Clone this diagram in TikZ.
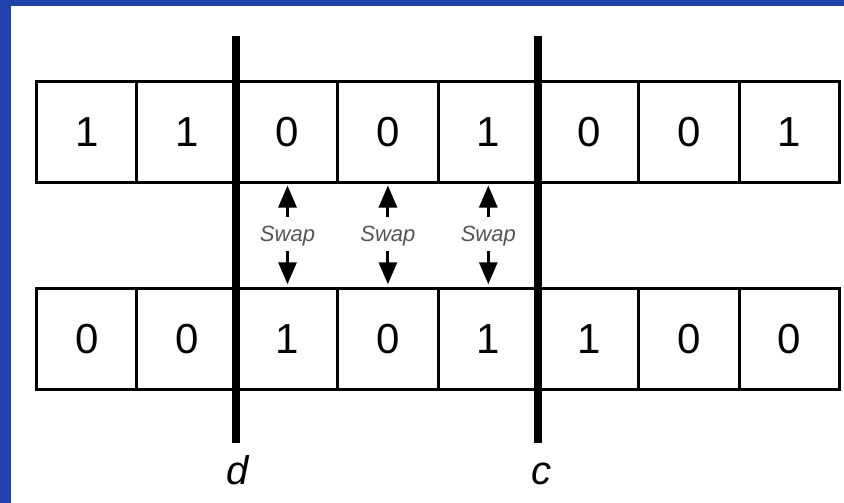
\documentclass[tikz,border=0pt]{standalone}
\usepackage{fontspec}
\setmainfont{Liberation Sans}
\usetikzlibrary{arrows.meta,positioning}
\definecolor{frameblue}{HTML}{2142AA}
\definecolor{swapgray}{HTML}{555555}

\begin{document}
\begin{tikzpicture}[x=1pt, y=-1pt,
    cell/.style={draw, line width=3pt, minimum width=100.4pt, minimum height=101pt,
      inner sep=0pt, outer sep=0pt, font=\fontsize{42}{48}\selectfont},
    swaplbl/.style={inner sep=0pt, text=swapgray, font=\fontsize{22}{24}\selectfont\itshape},
    swaparrow/.style={line width=3pt, -{Triangle[length=22pt, width=18pt]}},
    bar/.style={line width=8pt},
    cutlbl/.style={anchor=base, font=\fontsize{40}{44}\selectfont\itshape}]
  % Frame
  \useasboundingbox (0,0) rectangle (844,503);
  \fill[white] (0,0) rectangle (844,503);
  \fill[frameblue] (0,0) rectangle (844,5.7);
  \fill[frameblue] (0,0) rectangle (11,503);

  % Parent strings
  \foreach \v [count=\i] in {1,1,0,0,1,0,0,1}
    \node[cell] (t\i) at ({36.5+100.4*(\i-0.5)},132) {\v};
  \foreach \v [count=\i] in {0,0,1,0,1,1,0,0}
    \node[cell] (b\i) at ({36.5+100.4*(\i-0.5)},339.25) {\v};

  % Swapped genes
  \foreach \i in {3,4,5} {
    \node[swaplbl] (s\i) at (t\i.south |- 0,236) {Swap};
    \draw[swaparrow, shorten <=9pt, shorten >=3pt] (s\i.north) -- (t\i.south);
    \draw[swaparrow, shorten <=5pt, shorten >=4.5pt] (s\i.south) -- (b\i.north);
  }

  % Crossover points
  \coordinate (d top) at (236,36);
  \coordinate (d bot) at (236,443);
  \coordinate (c top) at (538,36);
  \coordinate (c bot) at (538,443);
  \draw[bar] (d top) -- (d bot);
  \draw[bar] (c top) -- (c bot);
  \node[cutlbl] (d) at (238,484) {d};
  \node[cutlbl] (c) at (541,484) {c};
\end{tikzpicture}
\end{document}
